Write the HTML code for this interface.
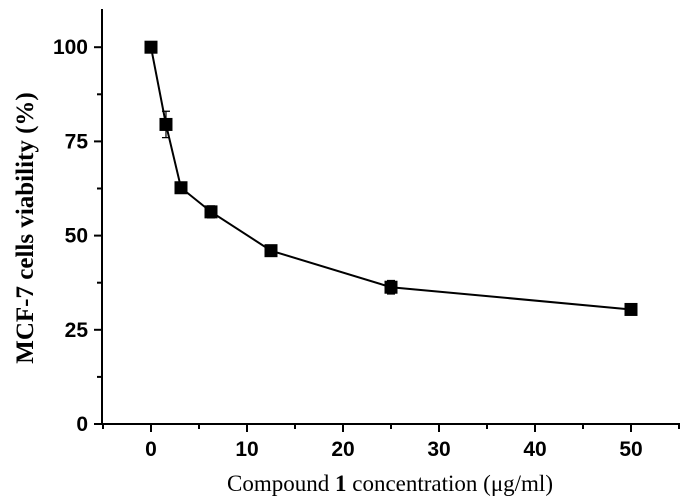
<!DOCTYPE html>
<html><head><meta charset="utf-8"><style>body{margin:0;background:#fff}svg{display:block}</style></head>
<body>
<svg id="chart" width="685" height="501" xmlns="http://www.w3.org/2000/svg"></svg>
<script>
const concentrations=[0,1.56,3.125,6.25,12.5,25,50];
const viability=[100,79.5,62.7,56.3,46,36.3,30.4];
const errors=[0,3.5,0.8,1.6,0.8,1.8,0.8];
const xTicks=[0,10,20,30,40,50];
const yTicks=[0,25,50,75,100];
const svg=document.getElementById('chart');
const NS='http://www.w3.org/2000/svg';
const X=v=>151+(v-0)*9.6;
const Y=v=>424-v*3.768;
function el(t,a,p){const e=document.createElementNS(NS,t);for(const k in a)e.setAttribute(k,a[k]);(p||svg).appendChild(e);return e;}
let g=el('g',{});


let ax=el('line',{x1:102,y1:9,x2:102,y2:425,stroke:'#000','stroke-width':2},g);


let axx=el('line',{x1:101,y1:424,x2:680,y2:424,stroke:'#000','stroke-width':2},g);


for(let v=0;v<=110;v+=12.5){const major=v%25===0;el('line',{x1:major?94:97,x2:102,y1:Y(v),y2:Y(v),stroke:'#000','stroke-width':2},g);}
for(let v=-5;v<=55;v+=5){const major=v%10===0;el('line',{x1:X(v),x2:X(v),y1:424,y2:major?432:429,stroke:'#000','stroke-width':2},g);}
yTicks.forEach(v=>{const t=el('text',{x:88,y:Y(v)+7,'text-anchor':'end','font-family':'Liberation Sans, sans-serif','font-weight':'bold','font-size':21},g);t.textContent=v;});
xTicks.forEach(v=>{const t=el('text',{x:X(v),y:456,'text-anchor':'middle','font-family':'Liberation Sans, sans-serif','font-weight':'bold','font-size':21},g);t.textContent=v;});
const xt=el('text',{x:390,y:491,'text-anchor':'middle','font-family':'Liberation Serif, serif','font-size':23});
xt.innerHTML='Compound <tspan font-weight="bold">1</tspan> concentration (μg/ml)';


const yt=el('text',{x:0,y:0,transform:'translate(33,228) rotate(-90)','text-anchor':'middle','font-family':'Liberation Serif, serif','font-weight':'bold','font-size':25});
yt.textContent='MCF-7 cells viability (%)';


const line=el('polyline',{points:concentrations.map((c,i)=>X(c)+','+Y(viability[i])).join(' '),fill:'none',stroke:'#000','stroke-width':2});


concentrations.forEach((c,i)=>{
  const x=X(c),y=Y(viability[i]);
  if(errors[i]>0){const e1=Y(viability[i]+errors[i]),e2=Y(viability[i]-errors[i]);
    const eb=el('path',{d:`M${x},${e1}V${e2}M${x-4},${e1}H${x+4}M${x-4},${e2}H${x+4}`,stroke:'#000','stroke-width':1.2,fill:'none'});
    
    }
  const r=el('rect',{x:x-6.5,y:y-6.5,width:13,height:13,fill:'#000'});
  
  
});
</script>
</body></html>
